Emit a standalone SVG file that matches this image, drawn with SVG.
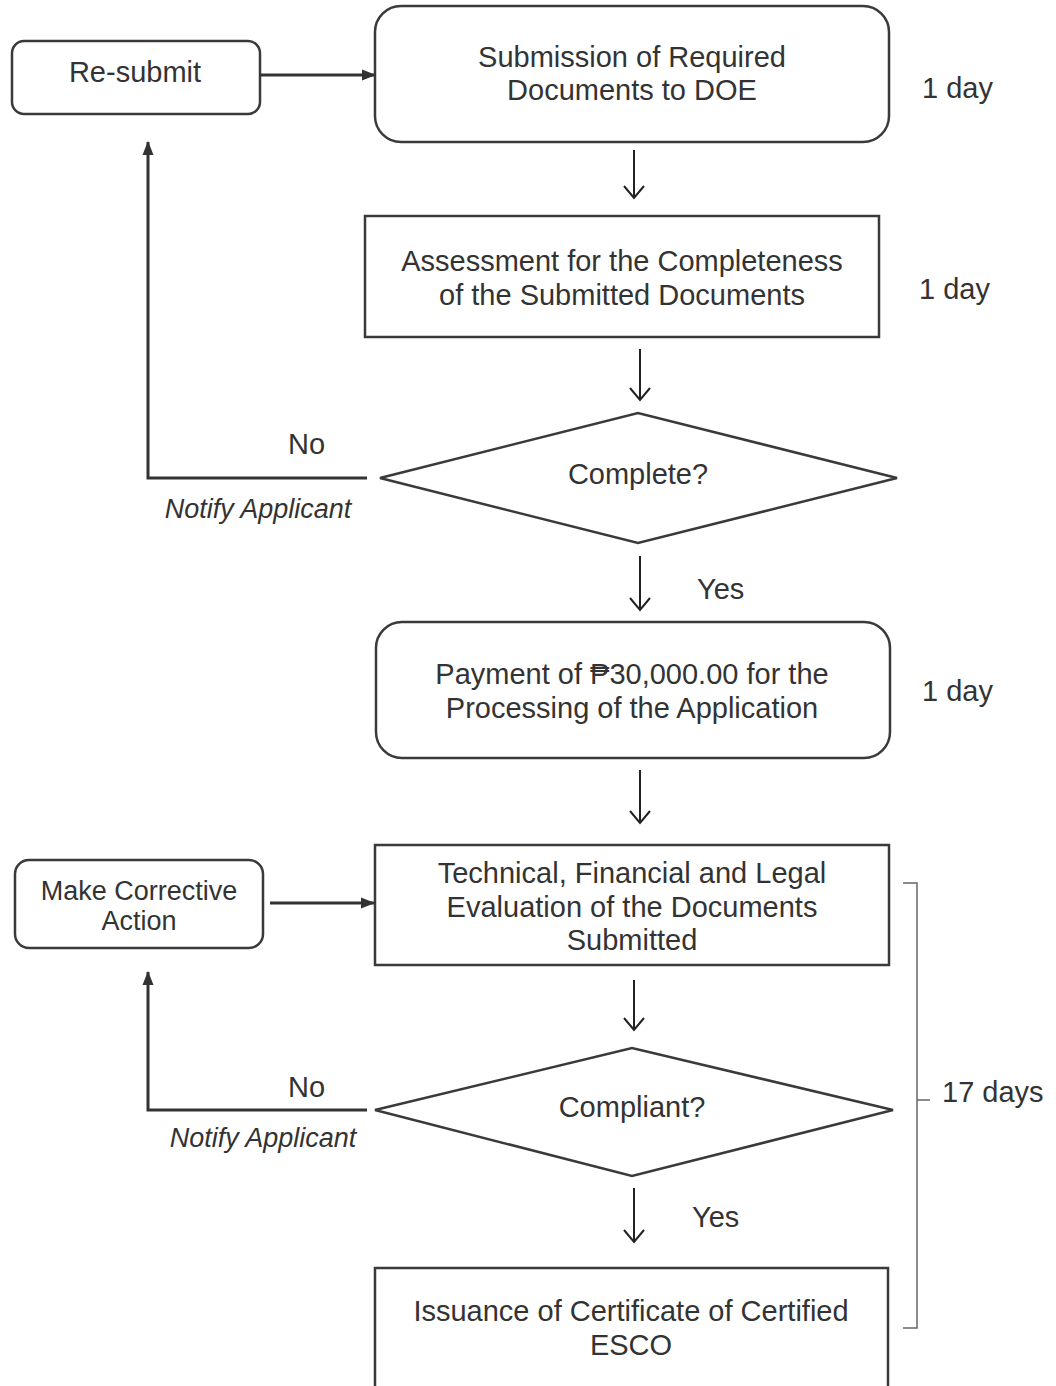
<svg xmlns="http://www.w3.org/2000/svg" width="1056" height="1386" viewBox="0 0 1056 1386">
<style>
.box{fill:#fff;stroke:#3a3a3a;stroke-width:2.5}
.t{font-family:"Liberation Sans",Arial,sans-serif;font-size:29px;fill:#333;text-anchor:middle}
.s{font-family:"Liberation Sans",Arial,sans-serif;font-size:29px;fill:#333}
.i{font-family:"Liberation Sans",Arial,sans-serif;font-size:27px;fill:#333;font-style:italic;text-anchor:middle}
.ln{fill:none;stroke:#333;stroke-width:3}
.dn{fill:none;stroke:#222;stroke-width:2}
.br{fill:none;stroke:#666;stroke-width:1.5}
</style>
<defs>
<marker id="fb" markerWidth="14" markerHeight="14" refX="13" refY="7" orient="auto" markerUnits="userSpaceOnUse" viewBox="0 0 14 14">
<path d="M0,1.5 L14,7 L0,12.5 z" fill="#333"/>
</marker>
</defs>
<rect width="1056" height="1386" fill="#fff"/>

<g id="resubmit">
<rect class="box" x="12" y="41" width="248" height="73" rx="12"/>
<text class="t" x="135" y="82">Re-submit</text>
</g>
<g id="submission">
<rect class="box" x="375" y="6" width="514" height="136" rx="26"/>
<text class="t" x="632" y="67">Submission of Required</text>
<text class="t" x="632" y="100">Documents to DOE</text>
<text class="s" x="922" y="98">1 day</text>
</g>
<g id="assessment">
<rect class="box" x="365" y="216" width="514" height="121"/>
<text class="t" x="622" y="271">Assessment for the Completeness</text>
<text class="t" x="622" y="305">of the Submitted Documents</text>
<text class="s" x="919" y="299">1 day</text>
</g>
<g id="complete">
<polygon class="box" points="380,478 638,413 897,478 638,543"/>
<text class="t" x="638" y="484">Complete?</text>
</g>
<g id="payment">
<rect class="box" x="376" y="622" width="514" height="136" rx="26"/>
<text class="t" x="632" y="684">Payment of ₱30,000.00 for the</text>
<text class="t" x="632" y="718">Processing of the Application</text>
<text class="s" x="922" y="701">1 day</text>
</g>
<g id="corrective">
<rect class="box" x="15" y="860" width="248" height="88" rx="14"/>
<text class="t" x="139" y="900" style="font-size:27px">Make Corrective</text>
<text class="t" x="139" y="930" style="font-size:27px">Action</text>
</g>
<g id="evaluation">
<rect class="box" x="375" y="845" width="514" height="120"/>
<text class="t" x="632" y="883">Technical, Financial and Legal</text>
<text class="t" x="632" y="917">Evaluation of the Documents</text>
<text class="t" x="632" y="950">Submitted</text>
</g>
<g id="compliant">
<polygon class="box" points="375,1110 632,1048 893,1110 632,1176"/>
<text class="t" x="632" y="1117">Compliant?</text>
</g>
<g id="issuance">
<rect class="box" x="375" y="1268" width="513" height="130"/>
<text class="t" x="631" y="1321">Issuance of Certificate of Certified</text>
<text class="t" x="631" y="1355">ESCO</text>
</g>
<g id="duration17">
<path class="br" d="M903,883 H917 V1328 H903 M917,1100 H930"/>
<text class="s" x="942" y="1102">17 days</text>
</g>

<g id="connectors">
<line class="ln" x1="260" y1="75" x2="375" y2="75" marker-end="url(#fb)"/>
<path class="dn" d="M634,150 V198 M624,186 L634,198 L644,186"/>
<path class="dn" d="M640,349 V400 M630,388 L640,400 L650,388"/>
<path class="ln" d="M367,478 H148 V142" marker-end="url(#fb)"/>
<path class="dn" d="M640,556 V610 M630,598 L640,610 L650,598"/>
<path class="dn" d="M640,770 V823 M630,811 L640,823 L650,811"/>
<line class="ln" x1="270" y1="903" x2="374" y2="903" marker-end="url(#fb)"/>
<path class="dn" d="M634,980 V1030 M624,1018 L634,1030 L644,1018"/>
<path class="ln" d="M367,1110 H148 V972" marker-end="url(#fb)"/>
<path class="dn" d="M634,1188 V1242 M624,1230 L634,1242 L644,1230"/>
<text class="s" x="288" y="454">No</text>
<text class="i" x="258" y="518">Notify Applicant</text>
<text class="s" x="697" y="599">Yes</text>
<text class="s" x="288" y="1097">No</text>
<text class="i" x="263" y="1147">Notify Applicant</text>
<text class="s" x="692" y="1227">Yes</text>
</g>
</svg>
